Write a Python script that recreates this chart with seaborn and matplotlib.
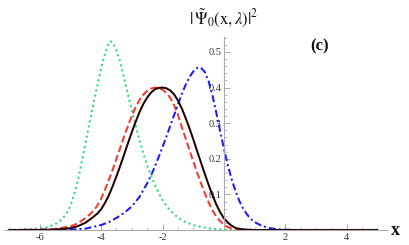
import matplotlib
matplotlib.use("Agg")
import matplotlib.pyplot as plt
from matplotlib.ticker import MultipleLocator, FixedLocator
import seaborn as sns

# curves
green_x = [-7, -6.5, -6.25, -6, -5.75, -5.5, -5.375, -5.25, -5.125, -5, -4.875, -4.75, -4.625,
           -4.5, -4.375, -4.25, -4.125, -4, -3.875, -3.75, -3.7, -3.625, -3.5, -3.375, -3.25,
           -3.125, -3, -2.875, -2.75, -2.625, -2.5, -2.375, -2.25, -2.125, -2, -1.875, -1.75,
           -1.5, -1.25, -1, -0.75, -0.5, -0.25, 0, 0.5, 5]
green_y = [0, 0.001, 0.002, 0.004, 0.008, 0.016, 0.023, 0.033, 0.046, 0.068, 0.1, 0.14, 0.193,
           0.248, 0.302, 0.355, 0.405, 0.455, 0.495, 0.524, 0.53, 0.527, 0.505, 0.47, 0.427,
           0.38, 0.336, 0.293, 0.252, 0.215, 0.182, 0.153, 0.127, 0.104, 0.085, 0.068, 0.055,
           0.035, 0.022, 0.014, 0.009, 0.005, 0.003, 0.001, 0, 0]

red_x = [-7, -6, -5.5, -5, -4.75, -4.5, -4.375, -4.25, -4.125, -4, -3.875, -3.75, -3.625, -3.5,
         -3.375, -3.25, -3.125, -3, -2.875, -2.75, -2.625, -2.5, -2.375, -2.25, -2.125, -2,
         -1.875, -1.75, -1.625, -1.5, -1.375, -1.25, -1.125, -1, -0.875, -0.75, -0.625, -0.5,
         -0.375, -0.25, -0.125, 0, 0.125, 0.25, 0.5, 0.75, 5]
red_y = [0, 0.001, 0.003, 0.01, 0.019, 0.034, 0.043, 0.054, 0.068, 0.088, 0.113, 0.14, 0.169,
         0.2, 0.231, 0.263, 0.292, 0.32, 0.345, 0.365, 0.38, 0.391, 0.397, 0.4, 0.399, 0.394,
         0.385, 0.371, 0.351, 0.324, 0.29, 0.258, 0.225, 0.193, 0.162, 0.132, 0.104, 0.078,
         0.056, 0.038, 0.025, 0.015, 0.008, 0.004, 0.001, 0, 0]

black_x = [-7, -6, -5.5, -5, -4.75, -4.5, -4.375, -4.25, -4.125, -4, -3.875, -3.75, -3.625,
           -3.5, -3.375, -3.25, -3.125, -3, -2.875, -2.75, -2.625, -2.5, -2.375, -2.25, -2.125,
           -2, -1.875, -1.75, -1.625, -1.5, -1.375, -1.25, -1.125, -1, -0.875, -0.75, -0.625,
           -0.5, -0.375, -0.25, -0.125, 0, 0.125, 0.25, 0.375, 0.5, 0.75, 1, 5]
black_y = [0, 0, 0.001, 0.005, 0.011, 0.021, 0.029, 0.037, 0.046, 0.058, 0.076, 0.097, 0.123,
           0.151, 0.181, 0.212, 0.244, 0.275, 0.304, 0.331, 0.354, 0.372, 0.386, 0.395, 0.399,
           0.40, 0.398, 0.392, 0.381, 0.364, 0.342, 0.315, 0.286, 0.255, 0.222, 0.19, 0.158,
           0.127, 0.098, 0.072, 0.05, 0.033, 0.021, 0.012, 0.006, 0.003, 0.001, 0, 0]

blue_x = [-7, -5, -4.5, -4, -3.75, -3.5, -3.25, -3, -2.75, -2.5, -2.375, -2.25, -2.125, -2,
          -1.875, -1.75, -1.625, -1.5, -1.375, -1.25, -1.125, -1, -0.875, -0.75, -0.625, -0.5,
          -0.375, -0.25, -0.125, 0, 0.125, 0.25, 0.375, 0.5, 0.625, 0.75, 0.875, 1, 1.25, 1.5,
          1.75, 2, 2.5, 5]
blue_y = [0, 0.001, 0.004, 0.014, 0.022, 0.034, 0.048, 0.066, 0.093, 0.131, 0.153, 0.178,
          0.205, 0.233, 0.262, 0.292, 0.322, 0.352, 0.381, 0.407, 0.429, 0.445, 0.455, 0.456,
          0.444, 0.418, 0.378, 0.33, 0.278, 0.228, 0.183, 0.143, 0.11, 0.082, 0.06, 0.044,
          0.031, 0.022, 0.011, 0.005, 0.002, 0.001, 0, 0]

y_ticks = [0.1, 0.2, 0.3, 0.4, 0.5]
x_ticks = [-6, -4, -2, 2, 4]

sns.set_theme(style="white")
plt.rcParams["font.family"] = ["Liberation Serif", "DejaVu Serif"]
plt.rcParams["mathtext.fontset"] = "stix"

fig = plt.figure(figsize=(4.09, 2.45), dpi=100)
ax = fig.add_axes([5 / 409, 15 / 245, 382 / 409, 193 / 245])

lw = 1.45
sns.lineplot(x=green_x, y=green_y, ax=ax, color="#22dd77", lw=lw, linestyle=(0, (1, 1.6)))
sns.lineplot(x=red_x, y=red_y, ax=ax, color="#f53a2a", lw=lw, linestyle=(0, (3.5, 1.6)))
sns.lineplot(x=blue_x, y=blue_y, ax=ax, color="#1a1aff", lw=lw,
             linestyle=(0, (3.5, 1.5, 1, 1.5)))
sns.lineplot(x=black_x, y=black_y, ax=ax, color="#220000", lw=lw)

ax.set_xlim(-7.13, 5.31)
ax.set_ylim(0, 0.542)

for s in ["top", "right"]:
    ax.spines[s].set_visible(False)
ax.spines["left"].set_position(("data", 0))
ax.spines["bottom"].set_position(("data", 0))
for s in ["left", "bottom"]:
    ax.spines[s].set_color("#aaaaaa")
    ax.spines[s].set_linewidth(0.8)

ax.xaxis.set_major_locator(FixedLocator(x_ticks))
ax.xaxis.set_minor_locator(MultipleLocator(0.5))
ax.yaxis.set_major_locator(FixedLocator(y_ticks))
ax.yaxis.set_minor_locator(MultipleLocator(0.02))
ax.tick_params(which="both", direction="in", colors="#aaaaaa", labelcolor="#333333",
               labelsize=7.5, bottom=True, left=True)
ax.tick_params(which="major", length=4, width=0.7, pad=2)
ax.tick_params(which="minor", length=2, width=0.5)
ax.set_xticklabels([str(t) for t in x_ticks])
ax.set_yticklabels([str(t) for t in y_ticks])

ax.text(0, 0.565, r"$|\,\tilde{\Psi}_0(\mathrm{x},\lambda)|^2$", ha="center", va="bottom",
        fontsize=12, color="#111111", clip_on=False)
ax.text(3.13, 0.515, "(c)", ha="center", va="center", fontsize=12, fontweight="bold",
        color="#111111")
ax.text(5.6, 0.0, "x", ha="center", va="center", fontsize=13, fontweight="bold",
        color="#111111", clip_on=False)
ax.set_xlabel("")
ax.set_ylabel("")

fig.savefig("out.png", dpi=100)
